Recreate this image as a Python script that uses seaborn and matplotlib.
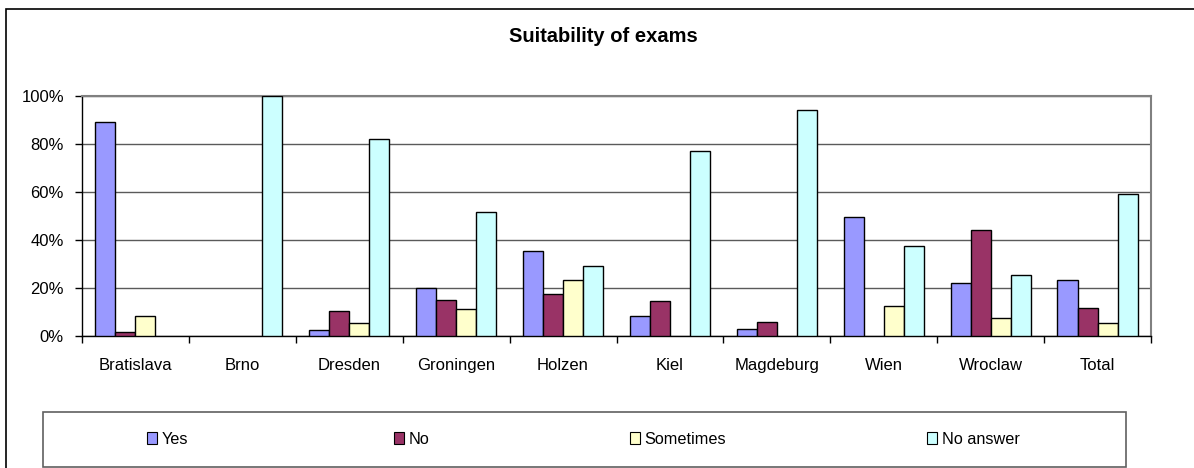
import matplotlib
matplotlib.use("Agg")
import matplotlib.pyplot as plt
from matplotlib.patches import Rectangle, Patch
from matplotlib.ticker import FixedLocator, PercentFormatter
import seaborn as sns
import pandas as pd
import numpy as np

cities = ["Bratislava", "Brno", "Dresden", "Groningen", "Holzen", "Kiel",
          "Magdeburg", "Wien", "Wroclaw", "Total"]
answers = ["Yes", "No", "Sometimes", "No answer"]
yes = [89.2, 0, 2.6, 20.2, 35.3, 8.4, 2.8, 49.7, 22.0, 23.3]
no = [1.8, 0, 10.4, 15.0, 17.5, 14.4, 5.7, 0, 44.3, 11.6]
sometimes = [8.4, 0, 5.3, 11.1, 23.4, 0, 0, 12.5, 7.6, 5.3]
no_answer = [0, 100, 82.1, 51.5, 29.2, 77.1, 94.0, 37.3, 25.5, 59.3]
colors = ["#9999FF", "#993366", "#FFFFCC", "#CCFFFF"]

df = pd.DataFrame({
    "city": cities * 4,
    "answer": [a for a in answers for _ in cities],
    "value": yes + no + sometimes + no_answer,
})

sns.set_theme(style="white")
plt.rcParams["font.family"] = ["Liberation Sans", "DejaVu Sans"]
plt.rcParams["text.color"] = "black"

fig = plt.figure(figsize=(11.94, 4.68), dpi=100)
W, H = 1194, 468
ax = fig.add_axes([82 / W, 1 - 336 / H, 1069 / W, 240 / H])

sns.barplot(data=df, x="city", y="value", hue="answer", order=cities,
            hue_order=answers, palette=colors, width=0.75, gap=0,
            edgecolor="black", linewidth=1, saturation=1, ax=ax,
            legend=False, errorbar=None, zorder=3)

# zero-valued bars are not drawn in the reference
for p in ax.patches:
    if p.get_height() == 0:
        p.set_visible(False)

ax.set_xlim(-0.5, len(cities) - 0.5)
ax.set_ylim(0, 100)
ax.set_yticks([0, 20, 40, 60, 80, 100])
ax.yaxis.set_major_formatter(PercentFormatter(decimals=0))
ax.yaxis.grid(True, color="#5a5a5a", linewidth=1, zorder=0)
ax.set_axisbelow(True)
ax.set_xlabel("")
ax.set_ylabel("")

ax.xaxis.set_minor_locator(FixedLocator(np.arange(-0.5, len(cities), 1.0)))
ax.tick_params(axis="x", which="major", length=0, pad=16, labelsize=12,
               labelcolor="black")
ax.tick_params(axis="x", which="minor", length=5, width=1, color="black",
               direction="out", bottom=True)
ax.tick_params(axis="y", which="major", length=5, width=1, color="black",
               direction="out", left=True, pad=8, labelsize=12,
               labelcolor="black")

for s in ["left", "bottom"]:
    ax.spines[s].set_color("black")
    ax.spines[s].set_linewidth(1)
ax.spines["right"].set_color("#808080")
ax.spines["right"].set_linewidth(1.5)
ax.spines["top"].set_color("#808080")
ax.spines["top"].set_linewidth(1.5)

fig.text(603 / W, 1 - 36 / H, "Suitability of exams", ha="center",
         va="center", fontsize=14.5, fontweight="bold", color="black")

# outer chart frame (left and top edges visible)
fig.add_artist(Rectangle((6 / W, -0.1), 1.2, 1 - 9 / H + 0.1,
                         transform=fig.transFigure, fill=False,
                         edgecolor="black", linewidth=1.2))

# legend box
fig.add_artist(Rectangle((43 / W, 1 - 467 / H), (1126 - 43) / W, 55 / H,
                         transform=fig.transFigure, fill=False,
                         edgecolor="#606060", linewidth=1.2))

marker_x = [147, 394, 630, 927]
for lab, col, mx in zip(answers, colors, marker_x):
    h = Patch(facecolor=col, edgecolor="black", linewidth=0.8)
    fig.legend(handles=[h], labels=[lab], loc="center left",
               bbox_to_anchor=(mx / W, 1 - 439 / H), frameon=False,
               fontsize=11.7, handlelength=0.6, handleheight=0.7,
               handletextpad=0.3, borderpad=0, borderaxespad=0,
               labelcolor="black")

fig.savefig("out.png", dpi=100, facecolor="white")
